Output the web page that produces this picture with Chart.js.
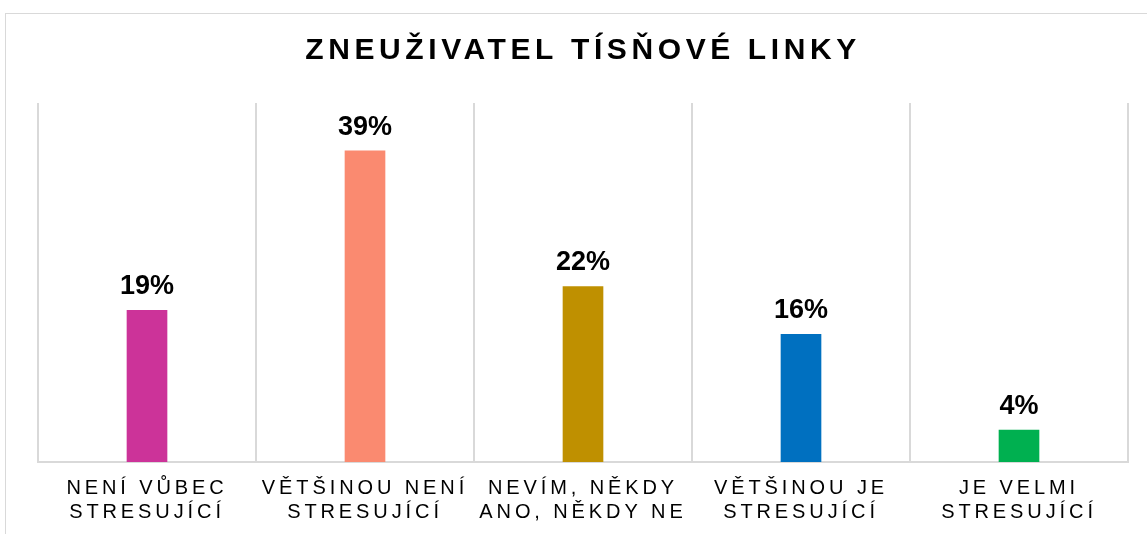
<!DOCTYPE html>
<html>
<head>
<meta charset="utf-8">
<script src="https://cdn.jsdelivr.net/npm/chart.js@4"></script>
<style>
  body { margin: 0; background: #fff; }
  #wrap { position: relative; width: 1147px; height: 534px; overflow: hidden; }
  #frame { position: absolute; left: 5px; top: 13px; width: 1160px; height: 540px; border: 1px solid #d9d9d9; }
  canvas { position: absolute; left: 0; top: 0; }
</style>
</head>
<body>
<div id="wrap">
  <div id="frame"></div>
  <canvas id="stressChart" width="1147" height="534"></canvas>
</div>
<script>
// Chart data
const chartTitle = 'ZNEUŽIVATEL TÍSŇOVÉ LINKY';
const categories = [
    ['NENÍ VŮBEC', 'STRESUJÍCÍ'],
    ['VĚTŠINOU NENÍ', 'STRESUJÍCÍ'],
    ['NEVÍM, NĚKDY', 'ANO, NĚKDY NE'],
    ['VĚTŠINOU JE', 'STRESUJÍCÍ'],
    ['JE VELMI', 'STRESUJÍCÍ']
];
const shares = [19, 39, 22, 16, 4];
const barColors = ['#CC3399', '#FA8A70', '#BF9000', '#0070C0', '#00B050'];

const FONT = '"Liberation Sans", Arial, sans-serif';

// Letter spacing for the axis labels
const spacingPlugin = {
    id: 'spacing',
    beforeDraw(chart) {
        chart.ctx.letterSpacing = '3.9px';
    },
    beforeDatasetsDraw(chart) {
        chart.ctx.letterSpacing = '0px';
    }
};

// Title and percent labels above the bars
const textPlugin = {
    id: 'texts',
    afterDatasetsDraw(chart) {
        const ctx = chart.ctx;
        ctx.save();
        ctx.letterSpacing = '0px';
        ctx.font = 'bold 27px ' + FONT;
        ctx.fillStyle = '#000';
        ctx.textAlign = 'center';
        ctx.textBaseline = 'bottom';
        chart.getDatasetMeta(0).data.forEach((bar, i) => {
            ctx.fillText(shares[i] + '%', bar.x, bar.y - 10);
        });

        // title, spaced out
        ctx.letterSpacing = '4.6px';
        ctx.font = 'bold 30px ' + FONT;
        ctx.textBaseline = 'middle';
        const cx = (chart.chartArea.left + chart.chartArea.right) / 2;
        ctx.fillText(chartTitle, cx, 51);
        ctx.restore();
    }
};

const ctx = document.getElementById('stressChart').getContext('2d');
const stressChart = new Chart(ctx, {
    type: 'bar',
    data: {
        labels: categories,
        datasets: [{
            data: shares,
            backgroundColor: barColors,
            barThickness: 40
        }]
    },
    options: {
        responsive: false,
        animation: false,
        layout: {
            padding: { left: 38, right: 19, top: 103, bottom: 0 }
        },
        scales: {
            x: {
                afterFit(scale) { scale.height = 72; },
                grid: {
                    offset: true,
                    color: '#d9d9d9',
                    lineWidth: 2,
                    drawTicks: false
                },
                border: { color: '#d9d9d9', width: 2 },
                ticks: {
                    color: '#000',
                    padding: 14,
                    maxRotation: 0,
                    font: { family: FONT, size: 20, lineHeight: 1.2 }
                }
            },
            y: {
                display: false,
                min: 0,
                max: 45
            }
        },
        plugins: {
            legend: { display: false },
            tooltip: { enabled: false },
            title: { display: false }
        }
    },
    plugins: [spacingPlugin, textPlugin]
});
</script>
</body>
</html>
